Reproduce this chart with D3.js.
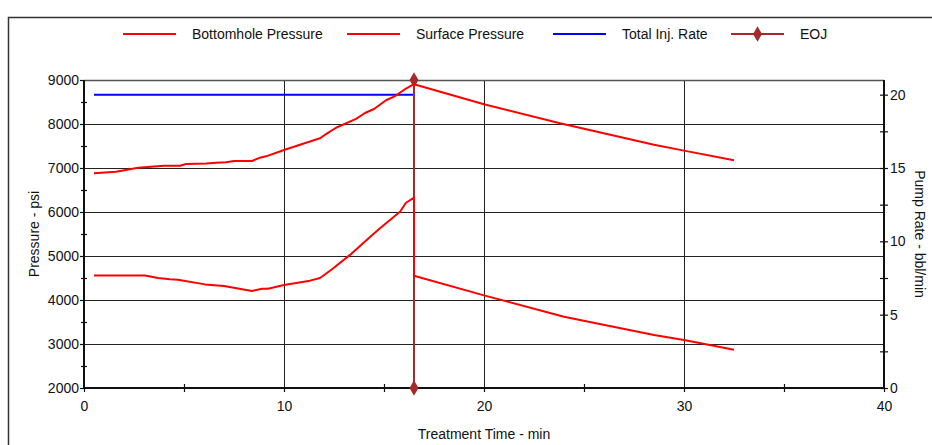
<!DOCTYPE html>
<html>
<head>
<meta charset="utf-8">
<script src="https://cdn.jsdelivr.net/npm/d3@7"></script>
<style>
    body { margin: 0; background: #fff; }
    text { font-family: "Liberation Sans", Arial, sans-serif; font-size: 14px; fill: #111; }
</style>
</head>
<body>
<div id="chart"></div>
<script>
// Bottomhole pressure (psi) vs treatment time (min)
const bhTime = [0.5, 1.6, 2.7, 4.0, 4.8, 5.1, 6.1, 6.6, 7.1, 7.5, 8.4, 8.8, 9.1, 10.0, 10.8, 11.8, 12.1, 12.6, 13.6, 14.05, 14.5, 15.1, 15.55, 16.05, 16.5, 20.0, 23.8, 28.5, 30.0, 32.5];
const bhPressure = [6880, 6915, 7005, 7050, 7050, 7090, 7100, 7120, 7130, 7160, 7160, 7235, 7265, 7410, 7530, 7675, 7770, 7915, 8115, 8250, 8340, 8540, 8635, 8790, 8905, 8450, 8015, 7530, 7395, 7175];

// Surface pressure (psi)
const spTime = [0.5, 3.05, 3.7, 4.3, 4.7, 6.05, 7.0, 8.4, 8.9, 9.2, 10.0, 11.3, 11.8, 12.4, 13.3, 14.3, 14.8, 15.8, 16.1, 16.5, 16.5, 20.0, 24.0, 28.5, 30.0, 32.5];
const spPressure = [4555, 4555, 4500, 4470, 4460, 4355, 4320, 4205, 4255, 4255, 4340, 4440, 4500, 4700, 5025, 5430, 5630, 6005, 6210, 6325, 4550, 4105, 3620, 3205, 3090, 2870];

// Total injection rate (bbl/min)
const rateTime = [0.5, 16.5];
const rateValues = [20, 20];

// End of job marker (right axis)
const eojTime = [16.5, 16.5];
const eojValues = [0, 21];

const legendNames = ["Bottomhole Pressure", "Surface Pressure", "Total Inj. Rate", "EOJ"];
const legendColors = ["#ff0000", "#ff0000", "#0000ff", "#a52a2a"];

const xTicks = [0, 10, 20, 30, 40];
const xMinor = [5, 15, 25, 35];
const yTicks = [2000, 3000, 4000, 5000, 6000, 7000, 8000, 9000];
const yMinor = [2500, 3500, 4500, 5500, 6500, 7500, 8500];
const y2Ticks = [0, 5, 10, 15, 20];
const y2Minor = [2.5, 7.5, 12.5, 17.5];

const width = 932;
const height = 445;
const margin = { top: 80, right: 48, bottom: 57, left: 84 };

let svg = d3.select("#chart")
    .append("svg")
    .attr("width", width)
    .attr("height", height);

// outer frame
svg.append("rect")
    .attr("x", 8.5).attr("y", 17.5)
    .attr("width", width).attr("height", height)
    .attr("fill", "none")
    .attr("stroke", "#333")
    .attr("stroke-width", 1.5);

let x = d3.scaleLinear().domain([0, 40]).range([margin.left, width - margin.right]);
let y = d3.scaleLinear().domain([2000, 9000]).range([height - margin.bottom, margin.top]);
let y2 = d3.scaleLinear().domain([0, 21]).range([height - margin.bottom, margin.top]);

// grid
svg.append("g")
    .selectAll("line")
    .data(yTicks.slice(1, -1))
    .join("line")
    .attr("x1", x(0) - 4).attr("x2", x(40))
    .attr("y1", d => Math.round(y(d)) + 0.5).attr("y2", d => Math.round(y(d)) + 0.5)
    .attr("stroke", "#222");

svg.append("g")
    .selectAll("line")
    .data(xTicks.slice(1, -1))
    .join("line")
    .attr("x1", d => Math.round(x(d)) + 0.5).attr("x2", d => Math.round(x(d)) + 0.5)
    .attr("y1", y(9000)).attr("y2", y(2000) + 4)
    .attr("stroke", "#222");

// top border of plot
svg.append("line")
    .attr("x1", x(0)).attr("x2", x(40))
    .attr("y1", y(9000) + 0.5).attr("y2", y(9000) + 0.5)
    .attr("stroke", "#555").attr("stroke-width", 1.5);

// axes
let leftAxis = svg.append("g")
    .attr("transform", "translate(" + x(0) + ",0)")
    .call(d3.axisLeft(y).tickValues(yTicks).tickSize(4).tickPadding(1).tickFormat(d3.format("d")));

let leftMinor = svg.append("g")
    .attr("transform", "translate(" + (x(0) + 3) + ",0)")
    .call(d3.axisLeft(y).tickValues(yMinor).tickSize(6).tickFormat(""));

let bottomAxis = svg.append("g")
    .attr("transform", "translate(0," + y(2000) + ")")
    .call(d3.axisBottom(x).tickValues(xTicks).tickSize(4).tickPadding(9));

let bottomMinor = svg.append("g")
    .attr("transform", "translate(0," + (y(2000) - 4) + ")")
    .call(d3.axisBottom(x).tickValues(xMinor).tickSize(8).tickFormat(""));

let rightAxis = svg.append("g")
    .attr("transform", "translate(" + (x(40) - 4) + ",0)")
    .call(d3.axisRight(y2).tickValues(y2Ticks).tickSize(8).tickPadding(2));

let rightMinor = svg.append("g")
    .attr("transform", "translate(" + (x(40) - 4) + ",0)")
    .call(d3.axisRight(y2).tickValues(y2Minor).tickSize(8).tickFormat(""));

[leftAxis, leftMinor, bottomAxis, bottomMinor, rightAxis, rightMinor].forEach(g => {
    g.selectAll(".domain").remove();
    g.selectAll("line").attr("stroke", "#111").attr("stroke-width", 1.2);
    g.selectAll("text").attr("font-size", 13).attr("fill", "#111")
        .attr("font-family", "Liberation Sans, Arial, sans-serif");
});

// axis lines
svg.append("line")
    .attr("x1", x(0)).attr("x2", x(0)).attr("y1", y(9000)).attr("y2", y(2000))
    .attr("stroke", "#111").attr("stroke-width", 2);
svg.append("line")
    .attr("x1", x(0)).attr("x2", x(40)).attr("y1", y(2000)).attr("y2", y(2000))
    .attr("stroke", "#111").attr("stroke-width", 2);
svg.append("line")
    .attr("x1", x(40)).attr("x2", x(40)).attr("y1", y(9000)).attr("y2", y(2000))
    .attr("stroke", "#111").attr("stroke-width", 2);

// axis titles
svg.append("text")
    .attr("x", (x(0) + x(40)) / 2).attr("y", 439)
    .attr("text-anchor", "middle")
    .text("Treatment Time - min");

svg.append("text")
    .attr("transform", "translate(39," + (y(5500)) + ") rotate(-90)")
    .attr("text-anchor", "middle")
    .text("Pressure - psi");

svg.append("text")
    .attr("transform", "translate(915," + (y(5500)) + ") rotate(90)")
    .attr("text-anchor", "middle")
    .text("Pump Rate - bbl/min");

// series
let line = d3.line();

svg.append("path")
    .attr("d", line(rateTime.map((t, i) => [x(t), y2(rateValues[i])])))
    .attr("fill", "none").attr("stroke", "#0000ff").attr("stroke-width", 2);

svg.append("path")
    .attr("d", line(eojTime.map((t, i) => [x(t), y2(eojValues[i])])))
    .attr("fill", "none").attr("stroke", "#a52a2a").attr("stroke-width", 2);

let diamond = d3.symbol().type(d3.symbolDiamond).size(70);
svg.append("g")
    .selectAll("path")
    .data(eojTime.map((t, i) => [x(t), y2(eojValues[i])]))
    .join("path")
    .attr("d", diamond)
    .attr("transform", d => "translate(" + d[0] + "," + d[1] + ")")
    .attr("fill", "#a52a2a");

svg.append("path")
    .attr("d", line(spTime.map((t, i) => [x(t), y(spPressure[i])])))
    .attr("fill", "none").attr("stroke", "#ff0000").attr("stroke-width", 2)
    .attr("stroke-linejoin", "round");

svg.append("path")
    .attr("d", line(bhTime.map((t, i) => [x(t), y(bhPressure[i])])))
    .attr("fill", "none").attr("stroke", "#ff0000").attr("stroke-width", 2)
    .attr("stroke-linejoin", "round");

// legend
const legendX = [123, 347, 553, 731];
let legend = svg.append("g");
legendNames.forEach((name, i) => {
    legend.append("line")
        .attr("x1", legendX[i]).attr("x2", legendX[i] + 53)
        .attr("y1", 34).attr("y2", 34)
        .attr("stroke", legendColors[i]).attr("stroke-width", 2);
    if (name === "EOJ") {
        legend.append("path")
            .attr("d", diamond)
            .attr("transform", "translate(" + (legendX[i] + 26.5) + ",34)")
            .attr("fill", legendColors[i]);
    }
    legend.append("text")
        .attr("x", legendX[i] + 69).attr("y", 39)
        .text(name);
});
</script>
</body>
</html>
